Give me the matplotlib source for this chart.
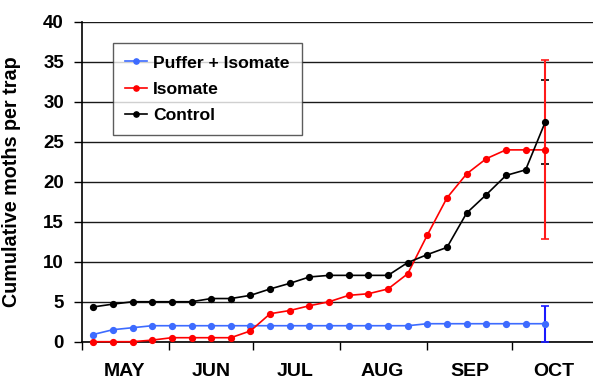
import datetime as dt
import matplotlib
matplotlib.use("Agg")
import matplotlib.pyplot as plt

plt.rcParams['font.family'] = ['Liberation Sans', 'DejaVu Sans']
plt.rcParams['font.weight'] = 'bold'

# weekly trap checks
dates = [dt.date(2004, 5, 5) + dt.timedelta(days=7 * i) for i in range(24)]

puffer = [0.9, 1.5, 1.75, 2.0, 2.0, 2.0, 2.0, 2.0, 2.0, 2.0, 2.0, 2.0,
          2.0, 2.0, 2.0, 2.0, 2.0, 2.25, 2.25, 2.25, 2.25, 2.25, 2.25, 2.25]
isomate = [0.0, 0.0, 0.0, 0.2, 0.5, 0.5, 0.5, 0.5, 1.35, 3.5, 3.9, 4.5,
           5.0, 5.8, 6.0, 6.6, 8.5, 13.35, 18.0, 21.0, 22.9, 24.0, 24.0, 24.0]
control = [4.35, 4.7, 5.0, 5.0, 5.0, 5.0, 5.4, 5.4, 5.8, 6.6, 7.3, 8.1,
           8.3, 8.3, 8.3, 8.3, 9.9, 10.9, 11.8, 16.1, 18.4, 20.8, 21.5, 27.5]

# error on the final count only
err_puffer = 2.25
err_isomate = 11.2
err_control = 5.3

months = ['MAY', 'JUN', 'JUL', 'AUG', 'SEP', 'OCT']

fig = plt.figure(figsize=(5.93, 3.79), dpi=100)
ax = fig.add_axes([82 / 593, 37.3 / 379, 511 / 593, 319.7 / 379])

ax.set_ylim(0, 40)
ax.set_yticks(range(0, 41, 5))
ax.yaxis.grid(True, color='#1a1a1a', linewidth=1.0)
ax.set_axisbelow(True)

# error bars on last point
ax.errorbar(dates[-1], control[-1], yerr=err_control, color='black',
            lw=1.2, capsize=3, capthick=1.2, fmt='none', zorder=3)
ax.errorbar(dates[-1], isomate[-1], yerr=err_isomate, color='#ff1a1a',
            lw=1.5, capsize=3, capthick=1.2, fmt='none', zorder=3)
ax.errorbar(dates[-1], puffer[-1], yerr=err_puffer, color='#1a1aff',
            lw=1.5, capsize=3, capthick=1.2, fmt='none', zorder=3, clip_on=False)

ax.plot(dates, puffer, color='#3d6bff', marker='o', ms=4.2, lw=1.2,
        label='Puffer + Isomate', zorder=4, clip_on=False)
ax.plot(dates, isomate, color='#ff0000', marker='o', ms=4.2, lw=1.2,
        label='Isomate', zorder=4, clip_on=False)
ax.plot(dates, control, color='black', marker='o', ms=4.2, lw=1.2,
        label='Control', zorder=5)

# x axis: ticks at month starts, labels mid-month
ax.set_xlim(dt.date(2004, 5, 1), dt.date(2004, 10, 30))
starts = [dt.date(2004, m, 1) for m in range(5, 11)]
mids = [dt.date(2004, m, 16) for m in range(5, 11)]
ax.set_xticks(starts)
ax.set_xticklabels([])
ax.set_xticks(mids, minor=True)
ax.set_xticklabels(months, minor=True, fontsize=14, fontweight='bold')
ax.tick_params(axis='x', which='major', length=6, width=1, direction='out')
ax.tick_params(axis='x', which='minor', length=0, pad=15)
ax.tick_params(axis='y', length=6, width=1, direction='out', pad=7,
               labelsize=13.5)

for s in ['top', 'right']:
    ax.spines[s].set_visible(False)
ax.spines['left'].set_linewidth(1.2)
ax.spines['bottom'].set_linewidth(1.2)

ax.set_ylabel('Cumulative moths per trap', fontsize=14.2, fontweight='bold')
ax.yaxis.set_label_coords(-61 / 511, 0.5)

leg = ax.legend(loc='upper left', bbox_to_anchor=(0.06, 0.934), fontsize=12.6,
                frameon=True, fancybox=False, edgecolor='#333333',
                handlelength=1.25, handletextpad=0.35, labelspacing=0.62,
                borderpad=0.7, borderaxespad=0, markerscale=0.9)
leg.get_frame().set_linewidth(1.0)
for t in leg.get_texts():
    t.set_fontweight('bold')

fig.savefig('out.png', dpi=100)
